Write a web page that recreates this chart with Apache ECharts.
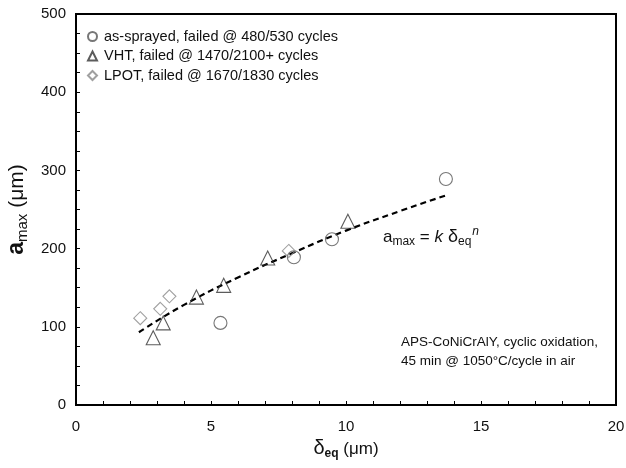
<!DOCTYPE html>
<html>
<head>
    <meta charset="UTF-8">
    <title>amax vs delta eq</title>
    <script src="https://cdn.jsdelivr.net/npm/echarts@6/dist/echarts.min.js"></script>
</head>
<body style="margin:0;background:#fff;">
<div id="chart" style="width:626px;height:468px;"></div>
<script>
    // values: [delta_eq (um), a_max (um)]
    var asSprayed = [[5.35, 105], [8.07, 189], [9.48, 212], [13.7, 289]];
    var vht = [[2.86, 86], [3.23, 105], [4.46, 138], [5.47, 153], [7.1, 188], [10.07, 235]];
    var lpot = [[2.38, 111], [3.12, 123], [3.46, 139], [7.88, 197]];
    // dashed fit curve
    var fitX = [2.33, 4, 6, 8, 10, 12, 13.7];
    var fitY = [93, 128, 163, 194, 223, 248, 268];

    var names = ['as-sprayed, failed @ 480/530 cycles', 'VHT, failed @ 1470/2100+ cycles', 'LPOT, failed @ 1670/1830 cycles'];
    var font = '"Liberation Sans", Arial, sans-serif';

    var chart = echarts.init(document.getElementById('chart'));

    function hollow(c) {
        return {color: 'rgba(255,255,255,0)', borderColor: c, borderWidth: 1.1};
    }

    var option = {
        animation: false,
        textStyle: {fontFamily: font},
        grid: {
            left: 76, right: 10, top: 14, bottom: 63, outerBoundsMode: 'none',
            show: true, borderColor: '#000', borderWidth: 2
        },
        legend: {
            orient: 'vertical', left: 82, top: 24, itemGap: 4.5, itemWidth: 9, itemHeight: 9,
            textStyle: {fontSize: 14.5, color: '#111', fontFamily: font, padding: [0, 0, 0, 2]},
            data: names
        },
        xAxis: {
            type: 'value', min: 0, max: 20, interval: 5,
            name: '{d|δ}{s|eq}{p| (μm)}', nameLocation: 'middle', nameGap: 30,
            nameTextStyle: {
                rich: {
                    d: {fontSize: 20, color: '#111', fontFamily: font},
                    s: {fontSize: 12, fontWeight: 'bold', color: '#111', padding: [10, 0, 0, 0], fontFamily: font},
                    p: {fontSize: 17, color: '#111', fontFamily: font}
                }
            },
            axisLine: {lineStyle: {color: '#000', width: 2}},
            axisTick: {inside: true, length: 4, lineStyle: {color: '#000'}},
            minorTick: {show: true, splitNumber: 5, length: 4, lineStyle: {color: '#000'}},
            axisLabel: {fontSize: 15, color: '#111', margin: 14},
            splitLine: {show: false}
        },
        yAxis: {
            type: 'value', min: 0, max: 500, interval: 100,
            name: '{a|a}{s|max}{p| (μm)}', nameLocation: 'middle', nameGap: 40,
            nameTextStyle: {
                rich: {
                    a: {fontSize: 23, fontWeight: 'bold', color: '#111', fontFamily: font},
                    s: {fontSize: 15, color: '#111', padding: [11, 0, 0, 0], fontFamily: font},
                    p: {fontSize: 21, color: '#111', fontFamily: font}
                }
            },
            axisLine: {lineStyle: {color: '#000', width: 2}},
            axisTick: {inside: true, length: 4, lineStyle: {color: '#000'}},
            minorTick: {show: true, splitNumber: 4, length: 4, lineStyle: {color: '#000'}},
            axisLabel: {fontSize: 15, color: '#111', margin: 10},
            splitLine: {show: false}
        },
        graphic: [
            {
                type: 'text', left: 383, top: 226,
                style: {
                    text: '{a|a}{s|max}{e| = }{k|k}{d| δ}{q|eq}{n|n}',
                    rich: {
                        a: {fontSize: 17, fill: '#111', fontFamily: font},
                        s: {fontSize: 12, fill: '#111', padding: [9, 0, 0, 0], fontFamily: font},
                        e: {fontSize: 17, fill: '#111', fontFamily: font},
                        k: {fontSize: 17, fill: '#111', fontStyle: 'italic', fontFamily: font},
                        d: {fontSize: 18, fill: '#111', fontFamily: font},
                        q: {fontSize: 12, fill: '#111', padding: [9, 0, 0, 0], fontFamily: font},
                        n: {fontSize: 12, fill: '#111', fontStyle: 'italic', padding: [0, 0, 11, 1], fontFamily: font}
                    }
                }
            },
            {
                type: 'text', right: 28, top: 333,
                style: {
                    text: 'APS-CoNiCrAlY, cyclic oxidation,\n45 min @ 1050°C/cycle in air',
                    fontSize: 13.5, lineHeight: 19, fill: '#111', fontFamily: font
                }
            }
        ],
        series: [
            {
                name: names[0], type: 'scatter', symbol: 'circle', symbolSize: 13,
                itemStyle: hollow('#555'), data: asSprayed, z: 3
            },
            {
                name: names[1], type: 'scatter', symbol: 'triangle', symbolSize: 14,
                itemStyle: hollow('#333'), data: vht, z: 3
            },
            {
                name: names[2], type: 'scatter', symbol: 'diamond', symbolSize: 13,
                itemStyle: hollow('#888'), data: lpot, z: 3
            },
            {
                name: 'fit', type: 'line', smooth: true, symbol: 'none',
                lineStyle: {color: '#000', width: 2.2, type: [6, 4]},
                data: fitX.map(function (x, i) { return [x, fitY[i]]; }), z: 2
            }
        ]
    };
    chart.setOption(option);
</script>
</body>
</html>
